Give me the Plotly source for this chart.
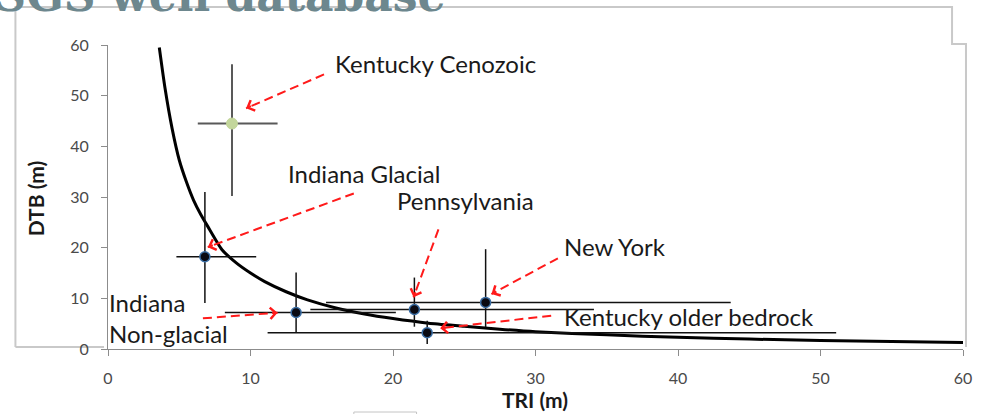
import plotly.graph_objects as go

# Site summaries: terrain ruggedness index vs. depth to bedrock
site_names = ["Kentucky Cenozoic", "Indiana Glacial", "Indiana Non-glacial",
              "Pennsylvania", "New York", "Kentucky older bedrock"]
tri_mean = [8.7, 6.8, 13.2, 21.5, 26.5, 22.4]
dtb_mean = [44.5, 18.2, 7.2, 7.8, 9.2, 3.2]
tri_low = [6.3, 4.8, 8.2, 14.2, 15.3, 11.2]
tri_high = [11.9, 10.4, 20.2, 34.1, 43.7, 51.1]
dtb_low = [30.2, 9.1, 3.2, 4.4, 4.3, 1.0]
dtb_high = [56.2, 31.0, 15.1, 14.1, 19.7, 5.6]

# Trend curve through the site means
curve_tri = [3.6, 4.0, 4.5, 5.0, 5.5, 6.0, 6.5, 7.0, 8.0, 9.0, 10.0, 11.0,
             12.5, 14.0, 16.0, 18.0, 20.0, 22.5, 25.0, 27.5, 30.0, 35.0,
             40.0, 45.0, 50.0, 55.0, 60.0]
curve_dtb = [59.5, 51.5, 43.5, 37.3, 33.0, 29.4, 26.6, 24.2, 19.6, 17.0,
             15.0, 13.3, 11.3, 9.7, 8.1, 6.9, 6.0, 5.1, 4.5, 3.9, 3.4, 2.8,
             2.3, 1.95, 1.7, 1.5, 1.3]

# Callout labels (centre positions) and their arrows (tail -> head)
label_text = ["Kentucky Cenozoic", "Indiana Glacial", "Pennsylvania",
              "New York", "Kentucky older bedrock"]
label_x = [23.0, 17.95, 25.1, 35.6, 40.75]
label_y = [56.3, 34.6, 29.3, 20.3, 6.5]
side_text = ["Indiana", "Non-glacial"]
side_y = [9.1, 3.0]

arrow_tail_x = [15.16, 17.25, 23.19, 31.57, 31.1, 6.66]
arrow_tail_y = [54.2, 30.7, 23.6, 17.9, 6.57, 6.06]
arrow_head_x = [9.69, 7.0, 21.44, 26.91, 23.31, 11.9]
arrow_head_y = [47.5, 20.1, 10.2, 10.85, 4.09, 7.16]

W, H = 984, 414
ML, MR, MT, MB = 108, 17, 45, 65
PW, PH = W - ML - MR, H - MT - MB
X_RANGE, Y_RANGE = 60.0, 60.0


def px_x(px):
    return (px - ML) / PW


def px_y(py):
    return (H - MB - py) / PH


LABEL_FONT = dict(family="Lato", size=24, color="#1a1a1a")
RED = "#ff1a1a"

fig = go.Figure()

fig.add_trace(go.Scatter(
    x=curve_tri, y=curve_dtb, mode="lines",
    line=dict(color="black", width=3, shape="spline", smoothing=0.6),
    hoverinfo="skip", showlegend=False,
))


def err_kwargs(idx):
    return dict(
        error_x=dict(type="data", symmetric=False,
                     array=[tri_high[i] - tri_mean[i] for i in idx],
                     arrayminus=[tri_mean[i] - tri_low[i] for i in idx],
                     width=0),
        error_y=dict(type="data", symmetric=False,
                     array=[dtb_high[i] - dtb_mean[i] for i in idx],
                     arrayminus=[dtb_mean[i] - dtb_low[i] for i in idx],
                     width=0),
    )


# Cenozoic site drawn in pale green with grey whiskers
cen = [0]
kw = err_kwargs(cen)
kw["error_x"].update(color="#595959", thickness=2)
kw["error_y"].update(color="#595959", thickness=2)
fig.add_trace(go.Scatter(
    x=[tri_mean[i] for i in cen], y=[dtb_mean[i] for i in cen],
    text=[site_names[i] for i in cen], mode="markers",
    marker=dict(size=11, color="#c3d69b", line=dict(color="#c3d69b", width=1)),
    showlegend=False, **kw,
))

rest = [1, 2, 3, 4, 5]
kw = err_kwargs(rest)
kw["error_x"].update(color="#111111", thickness=1.5)
kw["error_y"].update(color="#111111", thickness=1.5)
fig.add_trace(go.Scatter(
    x=[tri_mean[i] for i in rest], y=[dtb_mean[i] for i in rest],
    text=[site_names[i] for i in rest], mode="markers",
    marker=dict(size=10, color="#0a0a12", line=dict(color="#3a6ea5", width=1.5)),
    showlegend=False, **kw,
))

shapes = []
annotations = []

# Dashed red callout arrows
for tx, ty, hx, hy in zip(arrow_tail_x, arrow_tail_y, arrow_head_x, arrow_head_y):
    shapes.append(dict(type="line", xref="x", yref="y", x0=tx, y0=ty, x1=hx, y1=hy,
                       line=dict(color=RED, width=2, dash="9px,5px"), layer="above"))
    dx = (tx - hx) * PW / X_RANGE
    dy = -(ty - hy) * PH / Y_RANGE
    n = (dx * dx + dy * dy) ** 0.5
    annotations.append(dict(x=hx, y=hy, xref="x", yref="y", text="",
                            showarrow=True, arrowhead=4, arrowsize=1.1,
                            arrowwidth=2, arrowcolor=RED,
                            ax=dx / n * 7, ay=dy / n * 7, standoff=0))

for t, x, y in zip(label_text, label_x, label_y):
    annotations.append(dict(x=x, y=y, xref="x", yref="y", text=t,
                            showarrow=False, font=LABEL_FONT,
                            xanchor="center", yanchor="middle"))
for t, y in zip(side_text, side_y):
    annotations.append(dict(x=0, y=y, xref="x", yref="y", text=t,
                            showarrow=False, font=LABEL_FONT,
                            xanchor="left", yanchor="middle", xshift=-1))

# Axis titles
TITLE_FONT = dict(family="Lato", size=21, color="#1a1a1a")
annotations.append(dict(x=px_x(35), y=px_y(198), xref="paper", yref="paper",
                        text="<b>DTB (m)</b>", textangle=-90, showarrow=False,
                        font=TITLE_FONT, xanchor="center", yanchor="middle"))
annotations.append(dict(x=px_x(537), y=px_y(400), xref="paper", yref="paper",
                        text="<b>TRI (m)</b>", showarrow=False,
                        font=TITLE_FONT, xanchor="center", yanchor="middle"))

# Slide heading, partly above the visible area
annotations.append(dict(x=px_x(450), y=px_y(23), xref="paper", yref="paper",
                        text="<b>USGS well database</b>", showarrow=False,
                        font=dict(family="DejaVu Serif", size=44, color="#6d878e"),
                        xanchor="right", yanchor="bottom"))

# Chart-area frame
frame_col = "#c9c9c9"
frame_pts = [(15, 347), (15, 7), (956, 7), (956, 44), (970, 44), (970, 347)]
path = "M " + " L ".join(f"{px_x(a):.5f},{px_y(b):.5f}" for a, b in frame_pts)
shapes.append(dict(type="path", xref="paper", yref="paper", path=path,
                   line=dict(color=frame_col, width=2), layer="below"))
shapes.append(dict(type="line", xref="paper", yref="paper",
                   x0=px_x(15), y0=px_y(347), x1=px_x(104), y1=px_y(347),
                   line=dict(color=frame_col, width=2), layer="below"))
shapes.append(dict(type="rect", xref="paper", yref="paper",
                   x0=px_x(355), y0=px_y(420), x1=px_x(418), y1=px_y(412),
                   line=dict(color="#c4c4c4", width=1), layer="below"))

axis_common = dict(
    showgrid=False, zeroline=False, showline=True, linecolor="#8c8c8c", linewidth=1,
    ticks="outside", ticklen=6, tickcolor="#8c8c8c", tickwidth=1,
    tickfont=dict(family="Lato", size=16, color="#4a4a4a"),
    dtick=10, tick0=0, fixedrange=True,
)

fig.update_layout(
    width=W, height=H,
    margin=dict(l=ML, r=MR, t=MT, b=MB),
    paper_bgcolor="white", plot_bgcolor="white",
    xaxis=dict(range=[0, X_RANGE], ticklabelstandoff=9, **axis_common),
    yaxis=dict(range=[0, Y_RANGE], ticklabelstandoff=9, **axis_common),
    shapes=shapes, annotations=annotations,
    showlegend=False,
)

fig.write_html("out.html")
